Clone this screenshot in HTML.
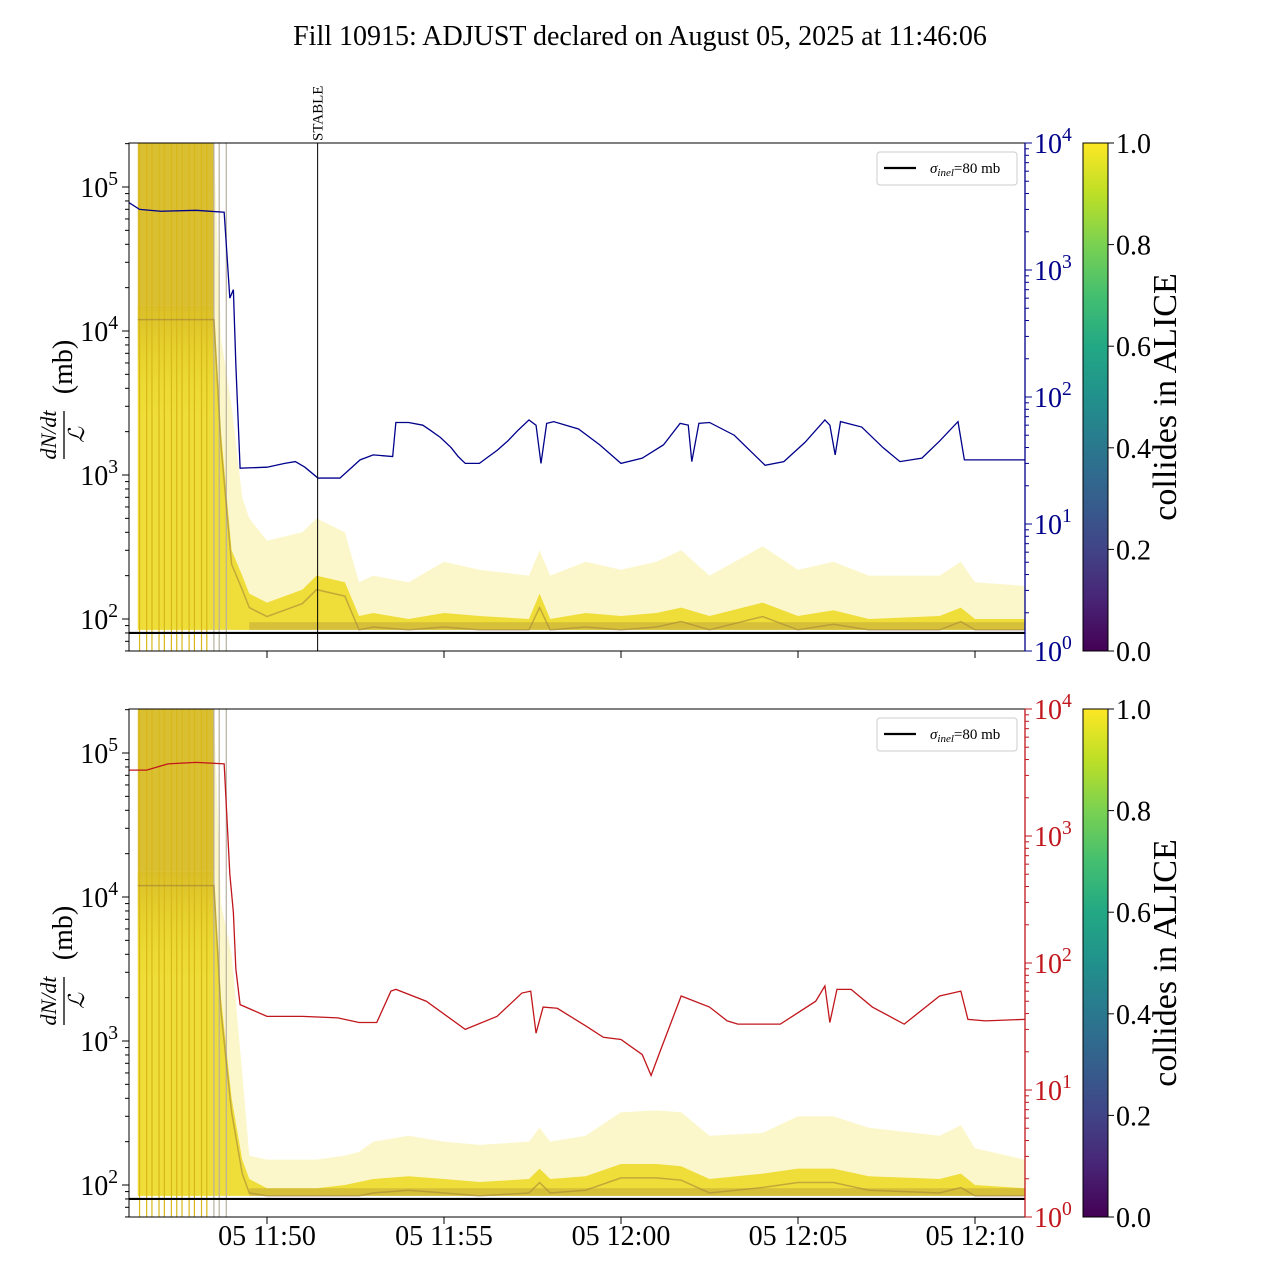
<!DOCTYPE html>
<html><head><meta charset="utf-8"><style>
body{margin:0;background:#fff}
svg{display:block;font-family:"Liberation Serif","DejaVu Serif",serif}
</style></head><body>
<svg id="fig" width="1280" height="1280" viewBox="0 0 1280 1280" xmlns="http://www.w3.org/2000/svg">
<defs>
<linearGradient id="viridis" x1="0" y1="1" x2="0" y2="0">
<stop offset="0" stop-color="#440154"/><stop offset="0.1" stop-color="#482475"/><stop offset="0.2" stop-color="#414487"/><stop offset="0.3" stop-color="#355f8d"/><stop offset="0.4" stop-color="#2a788e"/><stop offset="0.5" stop-color="#21918c"/><stop offset="0.6" stop-color="#22a884"/><stop offset="0.7" stop-color="#44bf70"/><stop offset="0.8" stop-color="#7ad151"/><stop offset="0.9" stop-color="#bddf26"/><stop offset="1" stop-color="#fde725"/>
</linearGradient>
<linearGradient id="fade" x1="0" y1="0" x2="0" y2="1">
<stop offset="0" stop-color="#d8bc2a" stop-opacity="0.95"/><stop offset="1" stop-color="#ecd820" stop-opacity="0"/>
</linearGradient>
<clipPath id="clipTop"><rect x="129" y="143" width="896" height="508"/></clipPath>
<clipPath id="clipBot"><rect x="129" y="709" width="896" height="508"/></clipPath>
</defs>
<text x="640" y="45" font-size="28" text-anchor="middle">Fill 10915: ADJUST declared on August 05, 2025 at 11:46:06</text>
<g id="top"></g><g id="bot"></g>
</svg>
<script>
// time in minutes after 11:45
const xTicks = [5, 10, 15, 20, 25];
const xTickLabels = ["05 11:50", "05 11:55", "05 12:00", "05 12:05", "05 12:10"];
const stableTime = 6.43;
const spikeTimes = [1.4,1.6,1.75,1.95,2.1,2.3,2.45,2.6,2.8,2.95,3.15,3.3,3.5,3.65,3.85];
// bundle envelope (mb)
const envT = [1.35,3.5,3.7,4.0,4.3,4.5,5.0,6.0,6.4,7.2,7.6,8.0,9.0,10.0,11.0,12.4,12.7,13.0,14.0,15.0,16.0,16.7,17.5,19.0,20.0,21.0,22.0,24.0,24.6,25.0,26.4];
const topUpper = [210000,210000,9000,3000,700,500,350,400,500,400,180,200,180,250,220,200,300,200,250,220,250,300,200,320,220,250,200,200,250,180,170];
const topMid = [15000,15000,2000,300,200,150,130,160,200,180,105,110,100,110,105,100,150,100,110,105,110,120,105,130,105,115,100,105,120,100,100];
const botUpper = [210000,210000,9000,4000,600,160,150,150,150,160,170,200,220,200,190,200,250,200,220,320,330,320,220,230,300,300,250,220,260,180,150];
const botMid = [15000,15000,2000,400,150,110,95,95,95,100,105,110,115,110,105,110,130,110,115,140,140,135,110,120,130,130,115,110,120,100,95];
const envLower = 84;
// right-axis series (top: blue, bottom: red)
const blueT = [1.1,1.4,2,3,3.79,3.95,4.05,4.12,4.24,5,5.5,5.8,6.07,6.44,7.06,7.4,7.63,8.0,8.55,8.64,9.0,9.4,9.6,9.9,10.2,10.4,10.6,11.0,11.2,11.5,11.8,12.1,12.4,12.6,12.74,12.9,13.1,13.8,14.4,15.0,15.6,16.2,16.67,16.9,17.0,17.2,17.5,18.2,19.07,19.6,20.2,20.76,20.9,21.05,21.2,21.8,22.4,22.88,23.5,24.0,24.52,24.7,25.5,26.4];
const blueV = [3400,3000,2900,2950,2850,600,700,180,27.5,28,30,31,28,23,23,28,32,35,34,63,63,60,55,48,40,34,30,30,33,38,45,55,66,60,30,62,64,56,42,30,33,42,62,60,31,62,63,50,29,31,44,66,60,35,64,58,40,31,33,45,64,32,32,32];
const redT = [1.1,1.6,2.2,3.0,3.79,3.95,4.05,4.12,4.24,5,6.0,7.0,7.6,8.1,8.5,8.64,9.5,10.6,11.5,12.2,12.45,12.6,12.8,13.2,14.0,14.5,15.0,15.6,15.85,16.1,16.7,17.5,18.0,18.3,19.5,20.5,20.76,20.9,21.1,21.5,22.1,23.0,24.0,24.6,24.8,25.3,26.4];
const redV = [3300,3300,3700,3800,3700,500,250,90,47,38,38,37,34,34,60,62,50,30,38,58,60,28,45,44,32,26,25,19,13,20,55,45,35,33,33,50,66,34,62,62,45,33,55,60,36,35,36];
function L(v){return Math.log10(v);}
function xs(t){return 267+(t-5)*35.4;}
const NS="http://www.w3.org/2000/svg";
function mk(parent,tag,attrs,txt){const e=document.createElementNS(NS,tag);for(const k in attrs)e.setAttribute(k,attrs[k]);if(txt!==undefined)e.textContent=txt;parent.appendChild(e);return e;}
function sup(parent,x,y,base,exp,fs,color,anchor){
  const t=mk(parent,'text',{x:x,y:y,'font-size':fs,fill:color,'text-anchor':anchor});
  
  
  mk(t,'tspan',{},base);mk(t,'tspan',{dy:-12,'font-size':fs*0.7},exp);return t;}
function panel(g,off,upper,mid,rT,rV,rColor,showX,showStable){
  const top=143+off,bot=651+off;
  const yL=v=>619+off-(L(v)-2)*144;
  const yR=v=>bot-L(v)*127;
  const clip=off?'url(#clipBot)':'url(#clipTop)';
  const c=mk(g,'g',{'clip-path':clip});
  
  
  const poly=(up,lo,fill,op,name)=>{let p=envT.map((t,i)=>xs(t)+','+yL(up[i]));
    p=p.concat(envT.slice().reverse().map((t,j)=>xs(t)+','+yL(typeof lo==='number'?lo:lo[envT.length-1-j])));
    const e=mk(c,'polygon',{points:p.join(' '),fill:fill,'fill-opacity':op});
    
    };
  poly(upper,envLower,'#f6e96a',0.35,'bundle-outer');
  poly(mid,envLower,'#ecd820',0.85,'bundle-core');
  const early=mk(c,'rect',{x:xs(1.35),y:top,width:xs(3.5)-xs(1.35),height:yL(15000)-top,fill:'#d8bc2a',opacity:0.95});
  
  
  const fadeR=mk(c,'rect',{x:xs(1.35),y:yL(15000),width:xs(3.5)-xs(1.35),height:yL(2500)-yL(15000),fill:'url(#fade)'});
  
  
  // spikes
  spikeTimes.forEach((t,i)=>{const l=mk(c,'line',{x1:xs(t),x2:xs(t),y1:top,y2:bot,stroke:i>11?'#b8b0a0':'#d8b818','stroke-width':1.2});
    
    });
  const dark=mk(c,'polyline',{points:envT.map((t,i)=>xs(t)+','+yL(Math.max(envLower,mid[i]*0.8))).join(' '),fill:'none',stroke:'#8a6a3a','stroke-width':1.5,opacity:0.45});
  
  
  const band=mk(c,'rect',{x:xs(4.5),y:yL(95),width:1025-xs(4.5),height:yL(envLower)-yL(95),fill:'#a88a3a',opacity:0.35});
  
  
  const sl=mk(c,'line',{x1:129,x2:1025,y1:yL(80),y2:yL(80),stroke:'#000','stroke-width':2.2});
  
  
  const rl=mk(c,'polyline',{points:rT.map((t,i)=>xs(t)+','+yR(rV[i])).join(' '),fill:'none',stroke:rColor,'stroke-width':1.3});
  
  
  if(showStable){const s=mk(g,'line',{x1:xs(stableTime),x2:xs(stableTime),y1:top,y2:bot,stroke:'#000','stroke-width':1});
    
    
    const st=mk(g,'text',{x:0,y:0,'font-size':15,transform:`translate(${xs(stableTime)+5},${top-2}) rotate(-90)`},'STABLE');
    
    }
  const fr=mk(g,'rect',{x:129,y:top,width:896,height:508,fill:'none',stroke:'#000','stroke-width':1});
  
  
  const rs=mk(g,'line',{x1:1025,x2:1025,y1:top,y2:bot,stroke:rColor,'stroke-width':1.3});
  
  
  for(let d=1;d<=5;d++)for(let m=1;m<10;m++){const v=m*Math.pow(10,d),y=yL(v);if(y<top-0.5||y>bot+0.5)continue;
    mk(g,'line',{x1:129,x2:m==1?122:125,y1:y,y2:y,stroke:'#000'});}
  for(let d=2;d<=5;d++){sup(g,118,yL(Math.pow(10,d))+10,'10',String(d),28,'#000','end');}
  for(let d=0;d<=4;d++)for(let m=1;m<10;m++){const v=m*Math.pow(10,d),y=yR(v);if(y<top-0.5||y>bot+0.5)continue;
    mk(g,'line',{x1:1025,x2:m==1?1032:1029,y1:y,y2:y,stroke:rColor});}
  for(let d=0;d<=4;d++){sup(g,1034,yR(Math.pow(10,d))+10,'10',String(d),28,rColor,'start');}
  xTicks.forEach((t,i)=>{mk(g,'line',{x1:xs(t),x2:xs(t),y1:bot,y2:bot+7,stroke:'#000'});
    if(showX){const tl=mk(g,'text',{x:xs(t),y:bot+28,'font-size':28,'text-anchor':'middle'},xTickLabels[i]);
      
      }});
  const yl=mk(g,'g',{transform:`translate(64,${off+397}) rotate(-90)`});
  
  
  mk(yl,'text',{x:-38,y:-8,'font-size':22,'font-style':'italic','text-anchor':'middle'},'dN/dt');
  mk(yl,'line',{x1:-62,x2:-14,y1:0,y2:0,stroke:'#000','stroke-width':1.3});
  mk(yl,'text',{x:-38,y:20,'font-size':22,'font-style':'italic','text-anchor':'middle'},'ℒ');
  mk(yl,'text',{x:30,y:8,'font-size':28,'text-anchor':'middle'},'(mb)');
  const lg=mk(g,'g',{});
  
  
  mk(lg,'rect',{x:877,y:top+9,width:140,height:33,rx:3,fill:'#fff',stroke:'#ccc'});
  mk(lg,'line',{x1:884,x2:916,y1:top+25,y2:top+25,stroke:'#000','stroke-width':2.2});
  const lt=mk(lg,'text',{x:930,y:top+30,'font-size':15});
  mk(lt,'tspan',{'font-style':'italic'},'σ');mk(lt,'tspan',{'font-style':'italic','font-size':11,dy:3},'inel');mk(lt,'tspan',{dy:-3},'=80 mb');
  const cb=mk(g,'rect',{x:1083,y:top,width:25,height:508,fill:'url(#viridis)',stroke:'#000'});
  
  
  [0,0.2,0.4,0.6,0.8,1.0].forEach(v=>{const y=bot-v*508;mk(g,'line',{x1:1108,x2:1114,y1:y,y2:y,stroke:'#000'});
    const t=mk(g,'text',{x:1116,y:y+10,'font-size':28},v.toFixed(1));
    
    });
  const ct=mk(g,'text',{x:0,y:0,'font-size':34,'text-anchor':'middle',transform:`translate(1176,${top+254}) rotate(-90)`},'collides in ALICE');
  
  
}
panel(document.getElementById('top'),0,topUpper,topMid,blueT,blueV,'#00008b',false,true);
panel(document.getElementById('bot'),566,botUpper,botMid,redT,redV,'#c0161c',true,false);
</script>
</body></html>
